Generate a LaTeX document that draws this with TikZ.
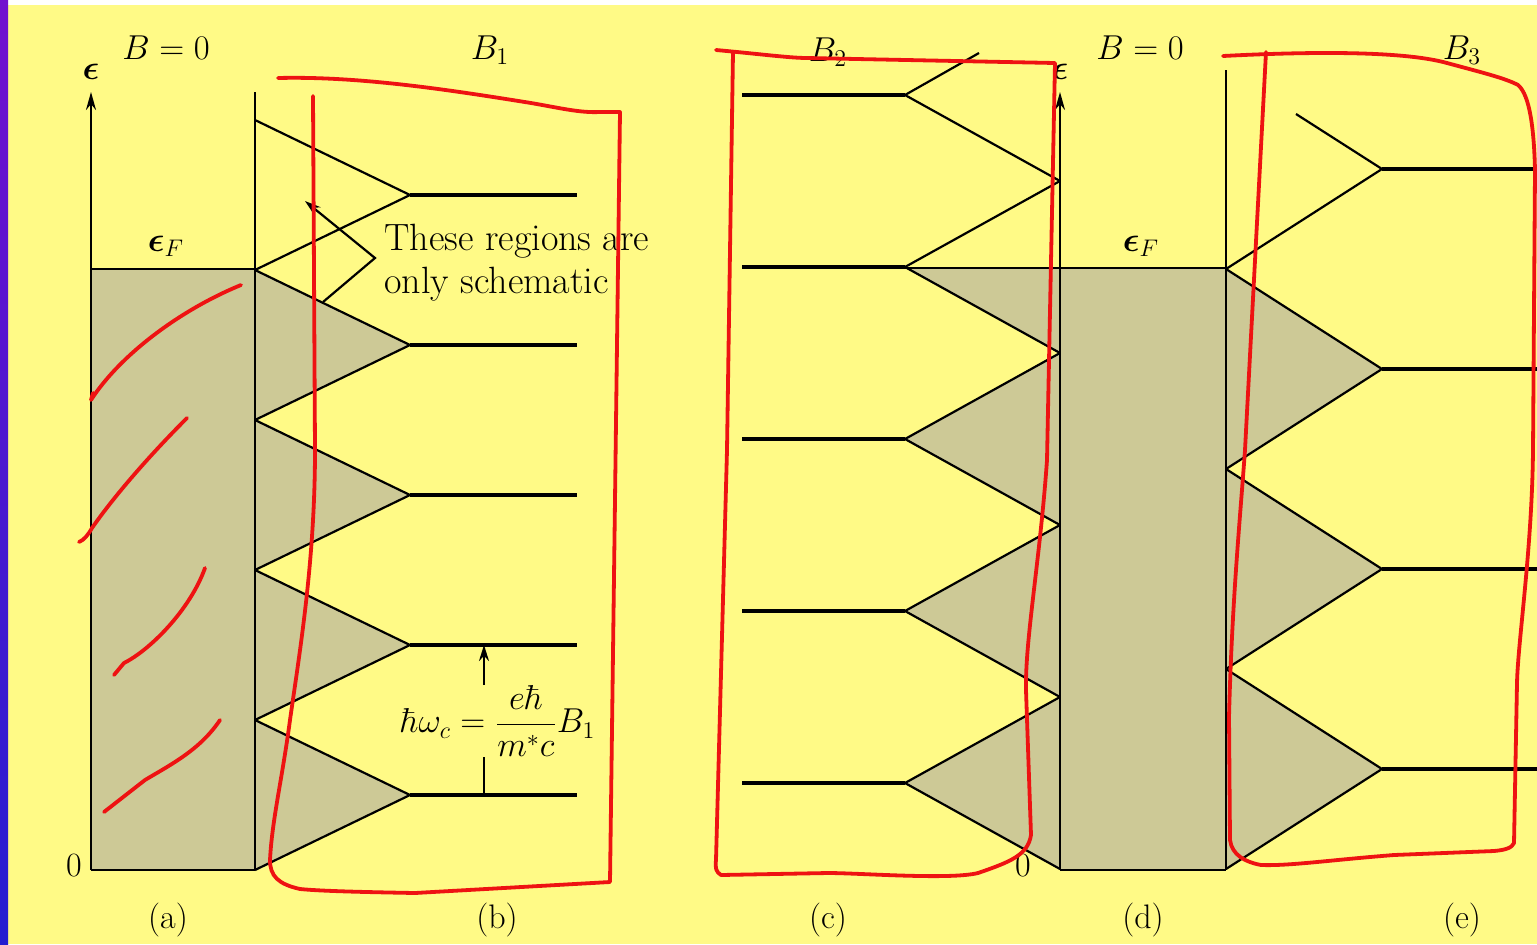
\documentclass[tikz,border=0pt]{standalone}
\usepackage{amsmath}
\usepackage{bm}
\usepackage{tikz}
\usetikzlibrary{arrows.meta}
\definecolor{pageyellow}{RGB}{255,250,134}
\definecolor{bandgrey}{RGB}{205,201,150}
\definecolor{penred}{RGB}{238,18,18}
\definecolor{edgeviolet}{RGB}{114,16,206}
\definecolor{edgeblue}{RGB}{36,30,208}

\tikzset{
  axisline/.style={black, line width=1.1pt},
  levelline/.style={black, line width=2.4pt},
  zigline/.style={black, line width=1.1pt, line join=miter},
  penmark/.style={penred, line width=1.9pt, line cap=round, line join=round},
  labtext/.style={font=\fontsize{17}{20}\selectfont, inner sep=0pt},
  notetext/.style={font=\fontsize{19}{22}\selectfont, inner sep=0pt, anchor=base west},
}

\begin{document}
\begin{tikzpicture}[x=0.5pt, y=-0.5pt]
  \useasboundingbox (0,0) rectangle (1537,944);
  \fill[pageyellow] (0,0) rectangle (1537,944);
  \fill[white] (8,0) rectangle (1537,5);
  \shade[top color=edgeviolet, bottom color=edgeblue] (0,0) rectangle (8,944);

  % filled states
  \fill[bandgrey] (91,269) rectangle (255,870);
  \fill[bandgrey] (1060,268) rectangle (1226,870);
  \foreach \lev in {345,495,645,795}
    \fill[bandgrey] (255,{\lev-75}) -- (410,\lev) -- (255,{\lev+75}) -- cycle;
  \foreach \lev in {369,569,769}
    \fill[bandgrey] (1226,{\lev-100}) -- (1382,\lev) -- (1226,{\lev+100}) -- cycle;
  \fill[bandgrey] (905,267) -- (1060,267) -- (1060,869) -- (905,783) -- (1060,697)
    -- (905,611) -- (1060,525) -- (905,439) -- (1060,353) -- cycle;

  % B = 0 boxes
  \draw[axisline, -{Stealth[length=9pt, width=5pt]}] (91,870) -- (91,92);
  \draw[axisline] (91,269) -- (255,269) (91,870) -- (255,870) (255,92) -- (255,870);
  \draw[axisline, -{Stealth[length=9pt, width=5pt]}] (1060,870) -- (1060,92);
  \draw[axisline] (905,268) -- (1226,268) (1060,870) -- (1226,870) (1226,70) -- (1226,870);

  % Landau levels
  \foreach \lev in {195,345,495,645,795} {
    \draw[levelline] (410,\lev) -- (577,\lev);
    \draw[zigline] (255,{\lev-75}) -- (410,\lev) -- (255,{\lev+75});
  }
  \foreach \lev in {267,439,611,783} {
    \draw[levelline] (742,\lev) -- (905,\lev);
    \draw[zigline] (1060,{\lev-86}) -- (905,\lev) -- (1060,{\lev+86});
  }
  \draw[levelline] (742,95) -- (905,95);
  \draw[zigline] (979,53) -- (905,95) -- (1060,181);
  \foreach \lev in {369,569,769} {
    \draw[levelline] (1382,\lev) -- (1537,\lev);
    \draw[zigline] (1226,{\lev-100}) -- (1382,\lev) -- (1226,{\lev+100});
  }
  \draw[levelline] (1382,169) -- (1537,169);
  \draw[zigline] (1296,114) -- (1382,169) -- (1226,269);

  % labels
  \foreach \name/\x/\y/\txt in {
    bzeroa/166/48/{$B = 0$},
    bone/490/50/{$B_1$},
    btwo/828/52/{$B_2$},
    bzerod/1140/48/{$B = 0$},
    bthree/1462/50/{$B_3$},
    epsa/91/72/{$\bm{\epsilon}$},
    epsd/1060/72/{$\bm{\epsilon}$},
    fermia/166/246/{$\bm{\epsilon}_F$},
    fermid/1141/246/{$\bm{\epsilon}_F$},
    zeroa/74/866/{0},
    zerod/1023/866/{0},
    capa/168/920/{(a)},
    capb/497/920/{(b)},
    capc/828/920/{(c)},
    capd/1143/920/{(d)},
    cape/1462/920/{(e)}
  }{
    \node[labtext] (\name) at (\x,\y) {\txt};
  }

  \node[notetext] (notetop) at (384,250) {These regions are};
  \node[notetext] (notebot) at (384,293) {only schematic};
  \coordinate (pointtip) at (305,201);
  \coordinate (pointbend) at (375,258);
  \coordinate (pointtail) at (323,302);
  \draw[axisline, {Stealth[length=8pt, width=5pt]}-] (pointtip) -- (pointbend) -- (pointtail);

  \node[font=\fontsize{17}{20}\selectfont, inner sep=0pt] (hbarw) at (498,721)
    {$\hbar\omega_c = \dfrac{e\hbar}{m^*c}B_1$};
  \coordinate (lowlev) at (484,795);
  \coordinate (uplev) at (484,645);
  \draw[axisline] (lowlev) -- (lowlev |- hbarw.south);
  \draw[axisline, -{Stealth[length=8pt, width=5pt]}] (uplev |- hbarw.north) -- (uplev);

  % red pen marks
  \draw[penmark] (278,78) .. controls (360,76) and (450,90) .. (531,103)
    .. controls (560,108) and (580,113) .. (600,112) -- (620,112)
    -- (615,500) -- (610,882) -- (415,893) .. controls (360,892) and (320,891) .. (300,889)
    .. controls (278,884) and (270,876) .. (270,860)
    .. controls (272,820) and (282,780) .. (290,720)
    .. controls (300,650) and (315,560) .. (315,450) -- (313,96);
  \draw[penmark] (716,50) .. controls (760,54) and (790,58) .. (807,58) -- (1055,63)
    -- (1047,460) .. controls (1040,560) and (1025,640) .. (1026,690) -- (1031,835)
    .. controls (1028,855) and (1010,862) .. (978,873)
    .. controls (950,880) and (860,873) .. (828,873) -- (721,875)
    .. controls (716,872) and (715,868) .. (716,860) -- (727,450) -- (733,52);
  \draw[penmark] (1223,56) .. controls (1300,52) and (1400,50) .. (1447,63)
    .. controls (1480,72) and (1505,78) .. (1518,85)
    .. controls (1530,95) and (1534,130) .. (1535,170) -- (1533,450)
    .. controls (1532,550) and (1518,640) .. (1517,683) -- (1514,843)
    .. controls (1512,848) and (1505,850) .. (1494,851) -- (1394,855)
    .. controls (1330,860) and (1290,866) .. (1261,865)
    .. controls (1245,862) and (1232,855) .. (1230,840) -- (1229,717)
    .. controls (1232,600) and (1240,520) .. (1245,450) -- (1266,52);
  \draw[penmark] (93,393) -- (91,400) .. controls (120,355) and (180,310) .. (241,285);
  \draw[penmark] (187,418) .. controls (150,455) and (115,495) .. (92,528)
    .. controls (88,535) and (84,540) .. (79,542);
  \draw[penmark] (205,568) .. controls (190,610) and (150,650) .. (124,663) -- (114,675);
  \draw[penmark] (220,720) .. controls (200,750) and (170,765) .. (145,780) -- (104,812);
\end{tikzpicture}
\end{document}
